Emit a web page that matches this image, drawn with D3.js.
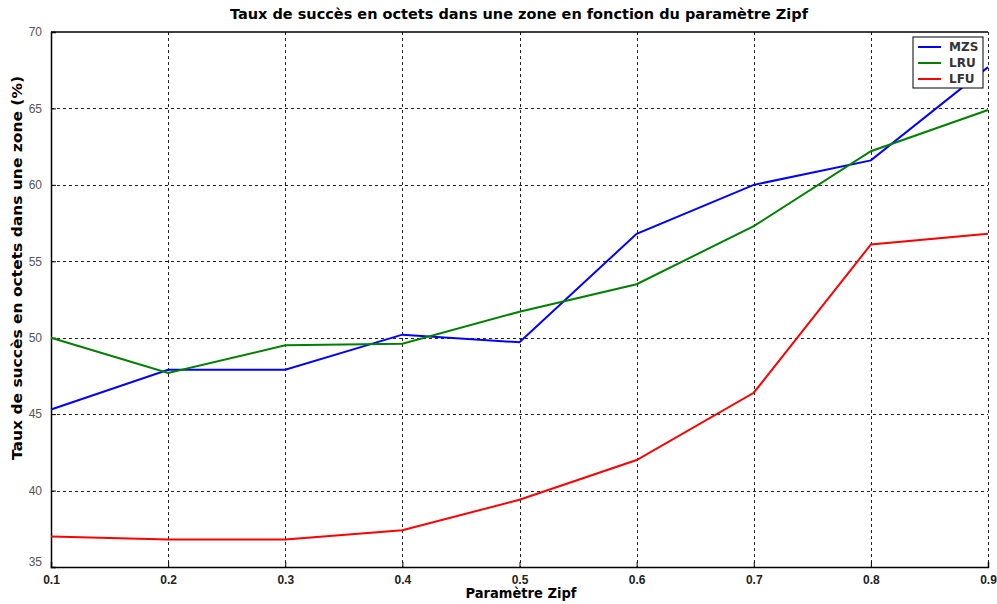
<!DOCTYPE html>
<html>
<head>
<meta charset="utf-8">
<script src="https://cdn.jsdelivr.net/npm/d3@7"></script>
<style>
  html, body { margin: 0; padding: 0; background: #fff; }
  svg { display: block; }
  .tick text { font-family: "Liberation Sans Narrow", "Liberation Sans", Arial, sans-serif; }
</style>
</head>
<body>
<svg id="chart" width="997" height="604"></svg>
<script>
// Zipf parameter values on the x axis
const zipf = [0.1, 0.2, 0.3, 0.4, 0.5, 0.6, 0.7, 0.8, 0.9];
// Byte hit ratio within a zone (%), one array per replacement policy
const mzs = [45.3, 47.9, 47.9, 50.2, 49.7, 56.8, 60.0, 61.6, 67.7];
const lru = [50.0, 47.7, 49.5, 49.6, 51.7, 53.5, 57.3, 62.2, 64.9];
const lfu = [37.0, 36.8, 36.8, 37.4, 39.4, 42.0, 46.4, 56.1, 56.8];
const seriesNames = ["MZS", "LRU", "LFU"];
const seriesColors = ["#0000ff", "#008000", "#ff0000"];
const xTicks = [0.1, 0.2, 0.3, 0.4, 0.5, 0.6, 0.7, 0.8, 0.9];
const yTicks = [35, 40, 45, 50, 55, 60, 65, 70];

const series = [mzs, lru, lfu].map((vals, i) => ({
  name: seriesNames[i], color: seriesColors[i],
  points: vals.map((v, j) => ({ x: zipf[j], y: v }))
}));

const svg = d3.select("#chart");
const margin = { left: 51, right: 8, top: 32, bottom: 37 };
const W = 997, H = 604;
const x = d3.scaleLinear().domain([0.1, 0.9]).range([margin.left, W - margin.right - 1]);
const y = d3.scaleLinear().domain([35, 70]).range([H - margin.bottom, margin.top]);

// grid
const grid = svg.append("g").attr("stroke", "#222").attr("stroke-width", 1)
  .attr("stroke-dasharray", "3,3");
grid.selectAll("line.vx").data(xTicks.slice(1)).join("line")
  .attr("x1", d => Math.round(x(d)) + 0.5).attr("x2", d => Math.round(x(d)) + 0.5)
  .attr("y1", y(70)).attr("y2", y(35));
grid.selectAll("line.hy").data(yTicks.slice(1, -1)).join("line")
  .attr("x1", x(0.1)).attr("x2", x(0.9))
  .attr("y1", d => Math.round(y(d)) + 0.5).attr("y2", d => Math.round(y(d)) + 0.5);

// axes
const xAxis = d3.axisBottom(x).tickValues(xTicks).tickSize(-5).tickPadding(8)
  .tickFormat(d3.format(".1f"));
const gx = svg.append("g").attr("transform", `translate(0,${y(35)})`).call(xAxis);
gx.select(".domain").attr("stroke-width", 1.5);
gx.selectAll(".tick text").attr("font-size", 12).attr("font-weight", "bold").attr("fill", "#222");

const yAxis = d3.axisLeft(y).tickValues(yTicks).tickSize(-5).tickPadding(9);
const gy = svg.append("g").attr("transform", `translate(${x(0.1)},0)`).call(yAxis);
gy.select(".domain").attr("stroke-width", 1.5);
gy.selectAll(".tick text").attr("font-size", 12).attr("fill", "#555");
gy.selectAll(".tick").filter(d => d === 35).select("text").attr("dy", "-0.1em");

// top border
svg.append("line").attr("x1", x(0.1)).attr("x2", x(0.9))
  .attr("y1", y(70)).attr("y2", y(70)).attr("stroke", "#000").attr("stroke-width", 1.5);

// series lines
const line = d3.line().x(d => x(d.x)).y(d => y(d.y));
svg.append("g").selectAll("path").data(series).join("path")
  .attr("d", d => line(d.points)).attr("fill", "none")
  .attr("stroke", d => d.color).attr("stroke-width", 2);

// titles
const font = "'DejaVu Sans', 'Liberation Sans', Arial, sans-serif";
svg.append("text").attr("x", 519).attr("y", 19).attr("text-anchor", "middle")
  .attr("font-family", font).attr("font-weight", "bold").attr("font-size", 13.5)
  .attr("textLength", 578).attr("lengthAdjust", "spacingAndGlyphs")
  .text("Taux de succès en octets dans une zone en fonction du paramètre Zipf");
svg.append("text").attr("x", 521).attr("y", 598).attr("text-anchor", "middle")
  .attr("font-family", font).attr("font-weight", "bold").attr("font-size", 13.5)
  .attr("textLength", 111).attr("lengthAdjust", "spacingAndGlyphs")
  .text("Paramètre Zipf");
svg.append("text").attr("transform", "translate(22,268) rotate(-90)").attr("text-anchor", "middle")
  .attr("font-family", font).attr("font-weight", "bold").attr("font-size", 13.5)
  .attr("textLength", 384).attr("lengthAdjust", "spacingAndGlyphs")
  .text("Taux de succès en octets dans une zone (%)");

// legend
const lg = svg.append("g").attr("transform", "translate(913,37)");
lg.append("rect").attr("width", 70).attr("height", 51)
  .attr("fill", "#fff").attr("stroke", "#000").attr("stroke-width", 1);
const items = lg.selectAll("g.item").data(series).join("g")
  .attr("transform", (d, i) => `translate(0,${10 + i * 16})`);
items.append("line").attr("x1", 5).attr("x2", 28).attr("stroke", d => d.color).attr("stroke-width", 2);
items.append("text").attr("x", 36).attr("dy", "0.35em")
  .attr("font-family", font).attr("font-weight", "bold").attr("font-size", 12)
  .attr("fill", "#333").text(d => d.name);
</script>
</body>
</html>
